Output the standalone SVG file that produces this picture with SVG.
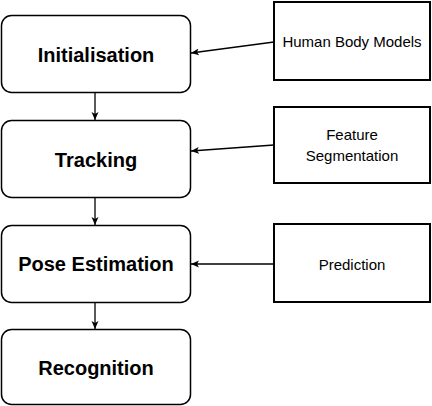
<svg xmlns="http://www.w3.org/2000/svg" width="432" height="406" viewBox="0 0 432 406">
<defs>
<marker id="ah" markerWidth="8" markerHeight="8" refX="8" refY="4" orient="auto" markerUnits="userSpaceOnUse">
<path d="M0,0.5 L8,4 L0,7.5 L2,4 Z" fill="#000"/>
</marker>
<style>
.step{fill:#fff;stroke:#000;stroke-width:1.5}
.src{fill:#fff;stroke:#000;stroke-width:2}
.bt{font-family:"Liberation Sans",Arial,sans-serif;font-weight:bold;font-size:20px;text-anchor:middle;fill:#000}
.rt{font-family:"Liberation Sans",Arial,sans-serif;font-size:15px;text-anchor:middle;fill:#000}
.c{stroke:#000;stroke-width:1.3;fill:none;marker-end:url(#ah)}
</style>
</defs>
<rect width="432" height="406" fill="#fff"/>
<g id="initialisation"><rect class="step" x="1.5" y="15.5" width="189" height="77" rx="10"/><text class="bt" x="96" y="62">Initialisation</text></g>
<g id="tracking"><rect class="step" x="1.5" y="120.5" width="189" height="77" rx="10"/><text class="bt" x="96" y="167">Tracking</text></g>
<g id="pose"><rect class="step" x="1.5" y="225.5" width="189" height="77" rx="10"/><text class="bt" x="96" y="271">Pose Estimation</text></g>
<g id="recognition"><rect class="step" x="1.5" y="329.5" width="189" height="75" rx="10"/><text class="bt" x="96" y="375">Recognition</text></g>
<g id="hbm"><rect class="src" x="274" y="2" width="156" height="78"/><text class="rt" x="352" y="47">Human Body Models</text></g>
<g id="feat"><rect class="src" x="274" y="107" width="156" height="76"/><text class="rt" x="352" y="140">Feature</text><text class="rt" x="352" y="161">Segmentation</text></g>
<g id="pred"><rect class="src" x="274" y="224" width="156" height="78"/><text class="rt" x="352" y="270">Prediction</text></g>
<g id="connectors">
<line class="c" x1="95" y1="93" x2="95" y2="120"/>
<line class="c" x1="95" y1="198" x2="95" y2="225"/>
<line class="c" x1="95" y1="303" x2="95" y2="329"/>
<line class="c" x1="274" y1="42" x2="191" y2="53"/>
<line class="c" x1="274" y1="145" x2="191" y2="151"/>
<line class="c" x1="274" y1="264" x2="191" y2="264"/>
</g>
</svg>
